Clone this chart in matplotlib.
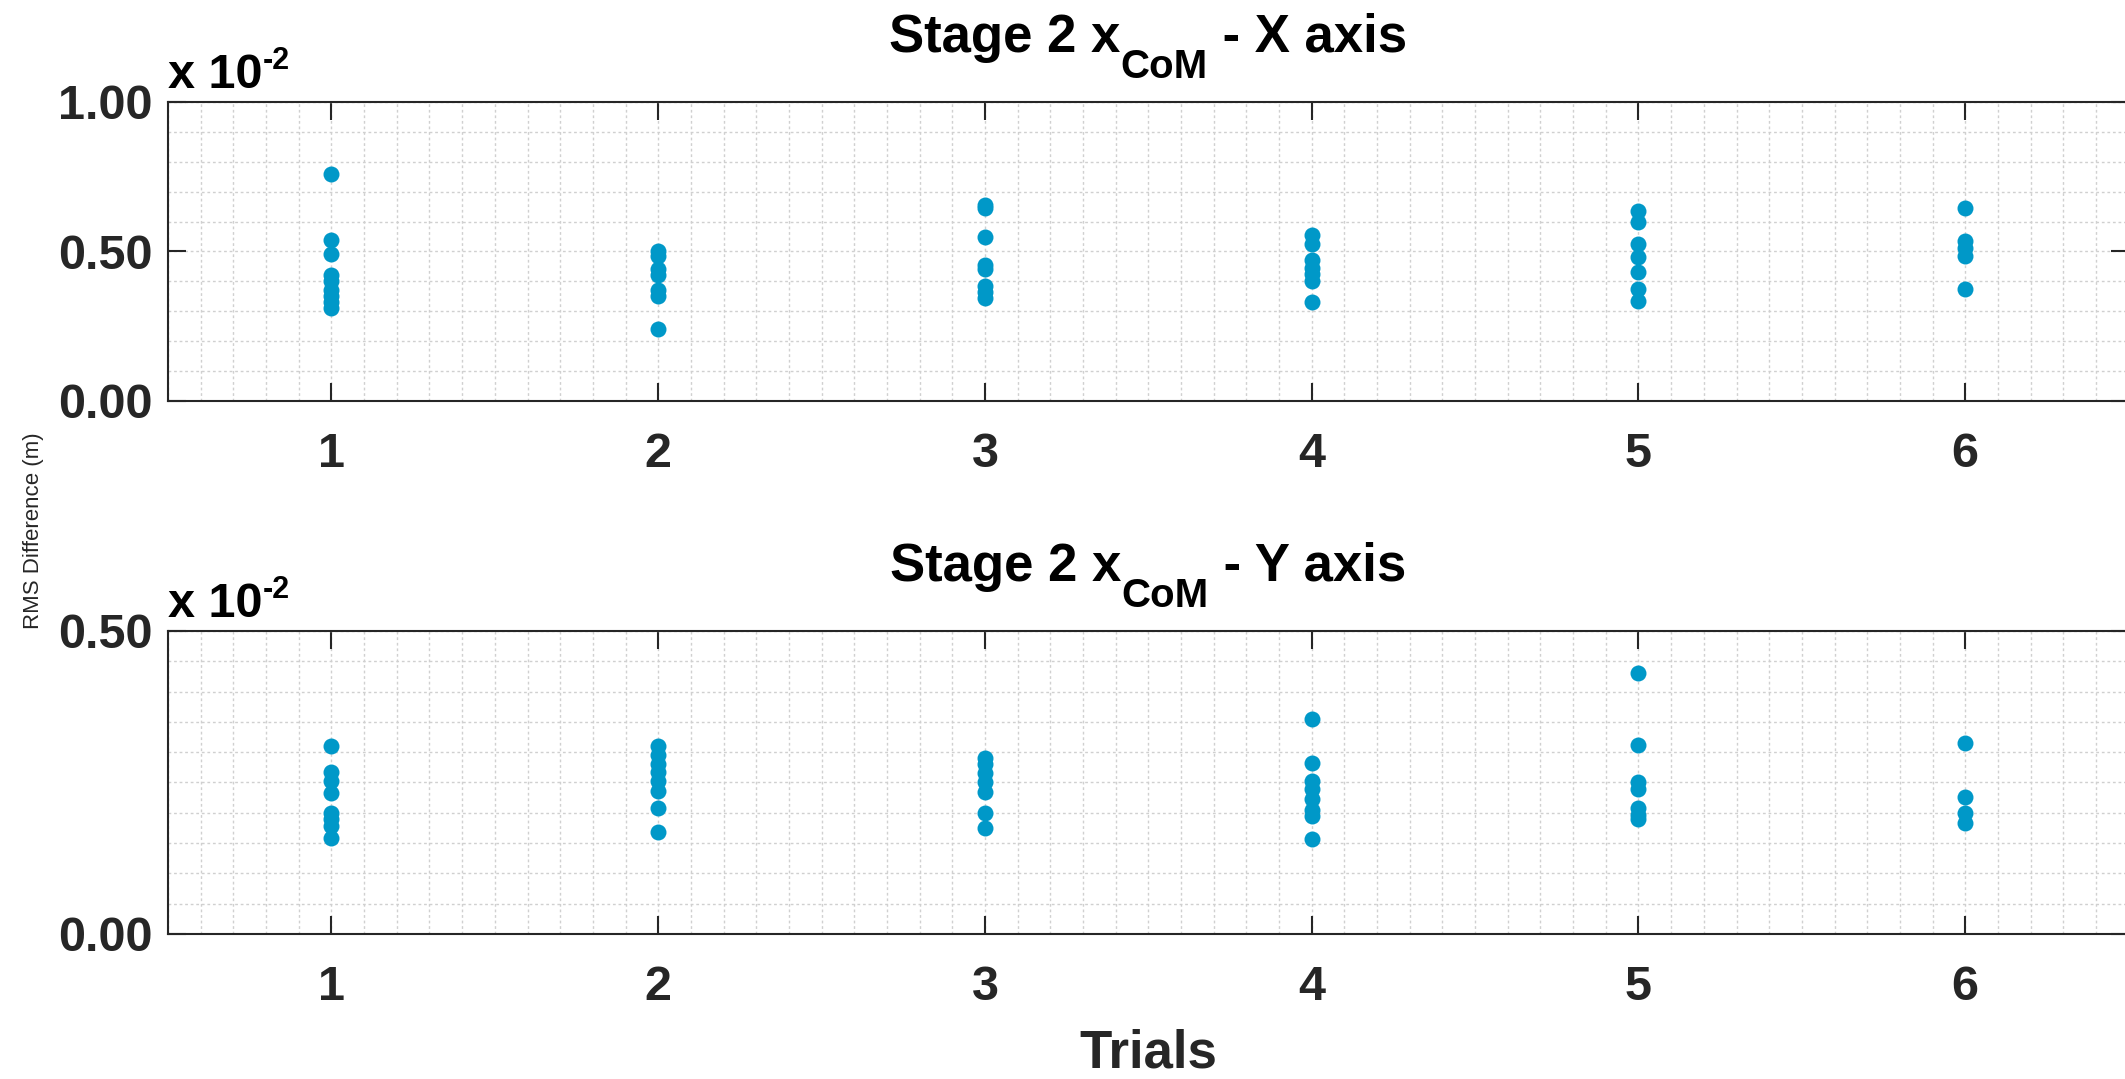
import numpy as np
import matplotlib.pyplot as plt
from matplotlib.transforms import IdentityTransform
from matplotlib.ticker import MultipleLocator, FormatStrFormatter

plt.rcParams['font.family'] = ['Liberation Sans', 'DejaVu Sans']

# RMS difference per trial, in units of 1e-2 m
trials = [1, 2, 3, 4, 5, 6]
x_axis_rms = [
    [0.76, 0.54, 0.49, 0.42, 0.40, 0.37, 0.35, 0.33, 0.31],
    [0.50, 0.485, 0.44, 0.42, 0.37, 0.35, 0.24],
    [0.655, 0.645, 0.55, 0.455, 0.44, 0.385, 0.365, 0.345],
    [0.555, 0.525, 0.47, 0.445, 0.425, 0.40, 0.33],
    [0.635, 0.60, 0.525, 0.48, 0.43, 0.375, 0.335],
    [0.645, 0.535, 0.51, 0.485, 0.375],
]
y_axis_rms = [
    [0.31, 0.268, 0.252, 0.233, 0.20, 0.19, 0.178, 0.158],
    [0.31, 0.295, 0.28, 0.267, 0.252, 0.236, 0.208, 0.168],
    [0.29, 0.28, 0.265, 0.25, 0.235, 0.20, 0.175],
    [0.355, 0.282, 0.253, 0.24, 0.222, 0.205, 0.195, 0.156],
    [0.43, 0.312, 0.25, 0.24, 0.208, 0.197, 0.19],
    [0.315, 0.226, 0.20, 0.183],
]

dot_color = '#0098c8'
dark = '#262626'

fig = plt.figure(figsize=(21.25, 10.79), dpi=100)
ax_top = fig.add_axes([0.0791, 0.6284, 0.9226, 0.2771])
ax_bot = fig.add_axes([0.0791, 0.1344, 0.9226, 0.2808])
renderer = fig.canvas.get_renderer()


def draw_title(ax, axis_name):
    # title with a large, low subscript, assembled from pieces in pixel space
    pieces = [('Stage 2 x', 38, 0), ('CoM', 29, -26), (' - ' + axis_name + ' axis', 38, 0)]
    bbox = ax.get_window_extent(renderer)
    cx = (bbox.x0 + bbox.x1) / 2
    base = bbox.y1 + 50
    widths = []
    for s, size, _ in pieces:
        t = fig.text(0, 0, s, fontsize=size, fontweight='bold')
        widths.append(t.get_window_extent(renderer).width)
        t.remove()
    x = cx - sum(widths) / 2
    for (s, size, dy), w in zip(pieces, widths):
        fig.text(x, base + dy, s, fontsize=size, fontweight='bold',
                 color='black', ha='left', va='baseline',
                 transform=IdentityTransform())
        x += w


panels = [
    (ax_top, x_axis_rms, 1.0, [0, 0.5, 1.0], 0.1, 'X'),
    (ax_bot, y_axis_rms, 0.5, [0, 0.5], 0.05, 'Y'),
]

for ax, data, ymax, yticks, minor_step, axis_name in panels:
    for t, vals in zip(trials, data):
        ax.plot([t] * len(vals), vals, 'o', color=dot_color, ms=11.5,
                mec='none', zorder=3)

    ax.set_xlim(0.5, 6.5)
    ax.set_ylim(0, ymax)
    ax.set_xticks(trials)
    ax.set_yticks(yticks)
    ax.yaxis.set_major_formatter(FormatStrFormatter('%.2f'))
    ax.xaxis.set_minor_locator(MultipleLocator(0.1))
    ax.yaxis.set_minor_locator(MultipleLocator(minor_step))
    ax.grid(True, which='both', linestyle=(0, (2, 2)), linewidth=1.0,
            color='#d0d0d0', zorder=0)
    ax.set_axisbelow(True)

    ax.tick_params(which='major', direction='in', length=13, width=1.5,
                   top=True, right=True, colors=dark, labelsize=35)
    ax.tick_params(which='minor', length=0)
    ax.tick_params(axis='x', pad=22)
    ax.tick_params(axis='y', pad=11)
    for lbl in ax.get_xticklabels() + ax.get_yticklabels():
        lbl.set_fontweight('bold')
    for sp in ax.spines.values():
        sp.set_linewidth(1.5)
        sp.set_color(dark)

    draw_title(ax, axis_name)

    # exponent label above the y axis
    ax.annotate('x 10', xy=(0, 1), xycoords='axes fraction',
                xytext=(0, 10), textcoords='offset points',
                ha='left', va='baseline', fontsize=35, fontweight='bold',
                color='black')
    ax.annotate('-2', xy=(0, 1), xycoords='axes fraction',
                xytext=(68, 24), textcoords='offset points',
                ha='left', va='baseline', fontsize=22, fontweight='bold',
                color='black')

ax_bot.set_xlabel('Trials', fontsize=38, fontweight='bold', color=dark,
                  labelpad=14)
fig.text(0.016, 0.508, 'RMS Difference (m)', rotation=90, ha='center',
         va='center', fontsize=16, color=dark)

fig.savefig('out.png', dpi=100)
